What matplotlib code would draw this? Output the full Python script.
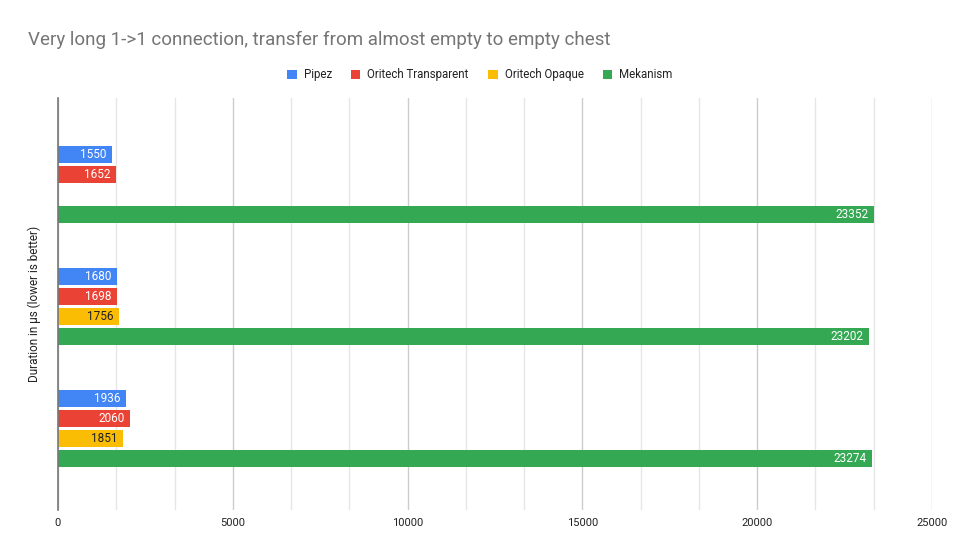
import numpy as np
import matplotlib.pyplot as plt
from matplotlib.ticker import MultipleLocator

plt.rcParams['font.family'] = ['Roboto', 'DejaVu Sans']

series = ["Pipez", "Oritech Transparent", "Oritech Opaque", "Mekanism"]
colors = ["#4285F4", "#EA4335", "#FBBC04", "#34A853"]
label_colors = ["white", "white", "#202124", "white"]

# one row per group (top to bottom), None = no value
pipez = [1550, 1680, 1936]
oritech_transparent = [1652, 1698, 2060]
oritech_opaque = [None, 1756, 1851]
mekanism = [23352, 23202, 23274]

values = [pipez, oritech_transparent, oritech_opaque, mekanism]

fig = plt.figure(figsize=(9.6, 5.57), dpi=100)
ax = fig.add_axes([0.0604, 0.0844, 0.9104, 0.7397])

groups = np.arange(len(pipez))
step = 0.163
bar_h = 0.14

for i, (name, vals) in enumerate(zip(series, values)):
    y = groups + (i - 1.5) * step
    for yy, v in zip(y, vals):
        if v is None:
            continue
        ax.barh(yy, v, height=bar_h, color=colors[i], zorder=3)
        ax.annotate(str(v), (v, yy), xytext=(-4, 0), textcoords='offset points',
                    ha='right', va='center', fontsize=8.5, color=label_colors[i], zorder=4)
    # legend handle
    ax.barh(np.nan, 0, color=colors[i], label=name)

ax.set_xlim(0, 25000)
ax.set_ylim(2.664, -0.706)
ax.set_yticks([])
ax.xaxis.set_major_locator(MultipleLocator(5000))
ax.xaxis.set_minor_locator(MultipleLocator(5000 / 3))
ax.grid(axis='x', which='major', color='#cccccc', linewidth=1, zorder=0)
ax.grid(axis='x', which='minor', color='#e6e6e6', linewidth=1, zorder=0)
ax.tick_params(axis='x', which='both', length=0, labelsize=8, labelcolor='#222222', pad=6)

for s in ['top', 'right', 'bottom']:
    ax.spines[s].set_visible(False)
ax.spines['left'].set_color('#777777')
ax.spines['left'].set_linewidth(1.2)
ax.spines['left'].set_zorder(5)

ax.set_ylabel("Duration in µs (lower is better)", fontsize=8.5, color='#222222', labelpad=12)

fig.text(0.029, 0.928, "Very long 1->1 connection, transfer from almost empty to empty chest",
         fontsize=13.5, color='#757575', va='center', ha='left')

leg = fig.legend(loc='center', bbox_to_anchor=(0.5, 0.866), ncol=4, frameon=False,
                 fontsize=8.3, handlelength=0.8, handleheight=0.8, columnspacing=1.7,
                 handletextpad=0.6)
for t in leg.get_texts():
    t.set_color('#222222')

fig.savefig("out.png", dpi=100)
